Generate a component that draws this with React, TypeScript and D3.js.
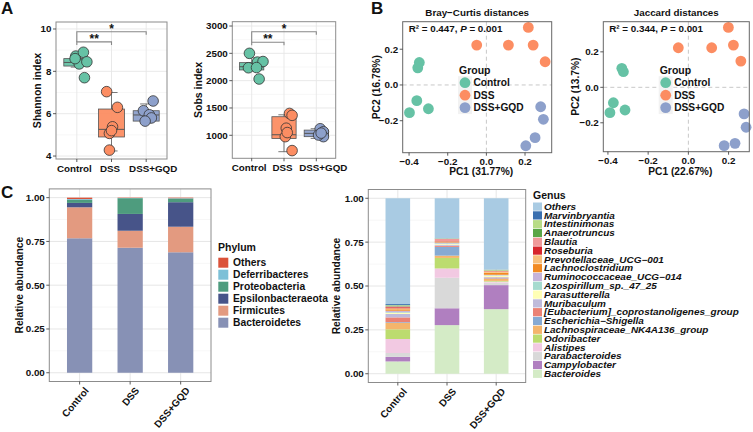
import React from 'react';
import * as d3 from 'd3';

const FONT = '"Liberation Sans", Arial, Helvetica, sans-serif';
const groups = ['Control', 'DSS', 'DSS+GQD'];
const groupColors = ['#66C2A5', '#FC8D62', '#8DA0CB'];
const groupLabelShift = [-2.5, -1.5, 7];

// ---- Panel A data ----
const shannonTicks = [4, 6, 8, 10];
const shannonPoints = [
  [8.72, 8.9, 8.35, 8.45, 7.7, 8.6],
  [7.04, 6.3, 5.38, 5.07, 4.28, 5.2],
  [6.6, 6.14, 5.95, 5.8, 5.65],
];
const shannonJitter = [
  [-0.03, 0.19, 0.07, 0.29, 0.22, -0.05],
  [-0.14, 0.17, 0.03, -0.06, -0.06, 0.0],
  [0.2, -0.08, 0.09, 0.15, -0.03],
];
// [whiskerLow, q1, median, q3, whiskerHigh]
const shannonBoxes = [
  [8.2, 8.25, 8.42, 8.6, 8.75],
  [4.24, 4.9, 5.26, 6.22, 7.0],
  [5.57, 5.65, 5.94, 6.14, 6.46],
];
const shannonBrackets = [
  { a: 0, b: 1, y: 9.39, label: '**' },
  { a: 0, b: 2, y: 9.87, label: '*' },
];

const sobsTicks = [1000, 1500, 2000, 2500, 3000];
const sobsPoints = [
  [2500, 2340, 2350, 2236, 2240, 2030],
  [1400, 1365, 1130, 975, 720, 1050],
  [1120, 1065, 975, 1005, 1040],
];
const sobsJitter = [
  [-0.07, 0.18, 0.35, -0.1, 0.15, 0.23],
  [0.17, 0.25, 0.07, 0.04, 0.25, 0.1],
  [0.12, 0.22, 0.22, 0.07, 0.15],
];
const sobsBoxes = [
  [2180, 2196, 2255, 2330, 2420],
  [700, 940, 1010, 1340, 1375],
  [943, 975, 1035, 1095, 1120],
];
const sobsBrackets = [
  { a: 0, b: 1, y: 2702, label: '**' },
  { a: 0, b: 2, y: 2896, label: '*' },
];

// ---- Panel B data ----
const pcTicks = [-0.4, -0.2, 0.0, 0.2];
const pcYTicks = [-0.2, 0.0, 0.2];
const brayPoints = [
  [[-0.347, 0.126], [-0.355, 0.096], [-0.36, -0.088], [-0.398, -0.155], [-0.3, -0.133]],
  [[-0.05, 0.223], [0.114, 0.223], [0.217, 0.322], [0.242, 0.223], [0.304, 0.13]],
  [[0.281, -0.122], [0.295, -0.192], [0.252, -0.295], [0.204, -0.34]],
];
const jaccardPoints = [
  [[-0.331, 0.107], [-0.323, 0.088], [-0.373, -0.087], [-0.39, -0.143], [-0.315, -0.128]],
  [[-0.05, 0.223], [0.116, 0.223], [0.199, 0.338], [0.224, 0.238], [0.261, 0.148]],
  [[0.277, -0.15], [0.287, -0.225], [0.232, -0.316], [0.178, -0.329]],
];

// ---- Panel C data ----
const abundTicks = [0, 0.25, 0.5, 0.75, 1.0];
const phylumNames = ['Others', 'Deferribacteres', 'Proteobacteria', 'Epsilonbacteraeota', 'Firmicutes', 'Bacteroidetes'];
const phylumColors = ['#DB5239', '#7DC0D7', '#4E9C7E', '#475489', '#E39A80', '#8791B5'];
const phylumControl = [0.008, 0.005, 0.017, 0.025, 0.177, 0.768];
const phylumDSS = [0.002, 0.001, 0.09, 0.096, 0.097, 0.714];
const phylumGQD = [0.003, 0.002, 0.021, 0.14, 0.146, 0.688];

const genusNames = [
  'Others', 'Marvinbryantia', 'Intestinimonas', 'Anaerotruncus', 'Blautia', 'Roseburia',
  'Prevotellaceae_UCG\u2212001', 'Lachnoclostridium', 'Ruminococcaceae_UCG\u2212014', 'Azospirillum_sp._47_25',
  'Parasutterella', 'Muribaculum', '[Eubacterium]_coprostanoligenes_group', 'Escherichia\u2212Shigella',
  'Lachnospiraceae_NK4A136_group', 'Odoribacter', 'Alistipes', 'Parabacteroides', 'Campylobacter', 'Bacteroides',
];
const genusColors = [
  '#A9CBE3', '#3A70B0', '#B8DC86', '#5AA646', '#F09A9A', '#D7262C', '#F8C07C', '#F28A22', '#C6B4DA', '#A6DBCF',
  '#FFFFB5', '#BFBBDB', '#EB8274', '#86AAD3', '#F4B56C', '#BCDC6F', '#F2C9E2', '#D9D9D9', '#B07FC0', '#D4EBC6',
];
const genusControl = [0.603, 0.006, 0.003, 0.004, 0.005, 0.006, 0.006, 0.008, 0.008, 0.004, 0.006, 0.02, 0.027, 0.004, 0.037, 0.055, 0.08, 0.022, 0.026, 0.07];
const genusDSS = [0.228, 0.001, 0.002, 0.001, 0.012, 0.002, 0.003, 0.003, 0.005, 0.004, 0.004, 0.006, 0.006, 0.05, 0.013, 0.06, 0.053, 0.174, 0.096, 0.277];
const genusGQD = [0.406, 0.001, 0.004, 0.002, 0.003, 0.002, 0.006, 0.012, 0.003, 0.002, 0.008, 0.003, 0.004, 0.003, 0.012, 0.004, 0.006, 0.014, 0.137, 0.368];

const GRID = '#E6E6E6';
const GRID_MINOR = '#F2F2F2';
const BORDER = '#8C8C8C';

type BoxProps = {
  x0: number; x1: number; y0: number; y1: number;
  domain: [number, number]; ticks: number[]; label: string;
  points: number[][]; jitter: number[][]; boxes: number[][];
  brackets: { a: number; b: number; y: number; label: string }[];
  labelX: number;
};

function BoxPanel(p: BoxProps) {
  const x = d3.scalePoint<string>().domain(groups).range([p.x0, p.x1]).padding(0.6);
  const step = x.step();
  const y = d3.scaleLinear().domain(p.domain).range([p.y1, p.y0]);
  const minor = p.ticks.slice(0, -1).map((t, i) => (t + p.ticks[i + 1]) / 2);
  const bw = step * 0.75;
  const cw = step * 0.35;
  return (
    <g>
      {minor.map((t) => (
        <line key={'mn' + t} x1={p.x0} x2={p.x1} y1={y(t)} y2={y(t)} stroke={GRID_MINOR} strokeWidth={0.6} />
      ))}
      {p.ticks.map((t) => (
        <line key={'mj' + t} x1={p.x0} x2={p.x1} y1={y(t)} y2={y(t)} stroke={GRID} strokeWidth={0.9} />
      ))}
      {groups.map((g) => (
        <line key={'vg' + g} x1={x(g)} x2={x(g)} y1={p.y0} y2={p.y1} stroke={GRID} strokeWidth={0.9} />
      ))}
      {groups.map((g, i) => {
        const cx = x(g)!;
        const [lo, q1, med, q3, hi] = p.boxes[i];
        return (
          <g key={'box' + g} stroke="#555" strokeWidth={0.8}>
            <line x1={cx} x2={cx} y1={y(lo)} y2={y(q1)} />
            <line x1={cx} x2={cx} y1={y(q3)} y2={y(hi)} />
            <line x1={cx - cw / 2} x2={cx + cw / 2} y1={y(lo)} y2={y(lo)} />
            <line x1={cx - cw / 2} x2={cx + cw / 2} y1={y(hi)} y2={y(hi)} />
            <rect x={cx - bw / 2} width={bw} y={y(q3)} height={y(q1) - y(q3)} fill={groupColors[i]} fillOpacity={0.95} />
            <line x1={cx - bw / 2} x2={cx + bw / 2} y1={y(med)} y2={y(med)} strokeWidth={1} />
          </g>
        );
      })}
      {groups.map((g, i) =>
        p.points[i].map((v, j) => (
          <circle key={g + j} cx={x(g)! + p.jitter[i][j] * step} cy={y(v)} r={5.3}
            fill={groupColors[i]} stroke="#333" strokeWidth={0.8} />
        ))
      )}
      {p.brackets.map((b, k) => {
        const xa = x(groups[b.a])!;
        const xb = x(groups[b.b])!;
        const yy = y(b.y);
        const tipDown = k === 1 ? y(p.brackets[0].y) - yy : 3;
        return (
          <g key={'br' + k}>
            <path d={`M${xa},${yy + tipDown}V${yy}H${xb}V${yy + 3}`} fill="none" stroke="#888" strokeWidth={1.1} />
            <text x={(xa + xb) / 2} y={yy + 1} textAnchor="middle" fontSize={12} fontWeight="bold" fill="#111">{b.label}</text>
          </g>
        );
      })}
      <rect x={p.x0} y={p.y0} width={p.x1 - p.x0} height={p.y1 - p.y0} fill="none" stroke={BORDER} strokeWidth={1} />
      {p.ticks.map((t) => (
        <g key={'t' + t}>
          <line x1={p.x0 - 3} x2={p.x0} y1={y(t)} y2={y(t)} stroke="#333" strokeWidth={0.8} />
          <text x={p.x0 - 4.5} y={y(t)} dy="0.35em" textAnchor="end" fontSize={9.8} fontWeight="bold" fill="#111">{t}</text>
        </g>
      ))}
      {groups.map((g, i) => (
        <g key={'xt' + g}>
          <line x1={x(g)} x2={x(g)} y1={p.y1} y2={p.y1 + 3} stroke="#333" strokeWidth={0.8} />
          <text x={x(g)! + groupLabelShift[i]} y={p.y1 + 13} textAnchor="middle" fontSize={9.8} fontWeight="bold" fill="#111">{g}</text>
        </g>
      ))}
      <text transform={`translate(${p.labelX},${(p.y0 + p.y1) / 2}) rotate(-90)`} dy="0.35em" textAnchor="middle"
        fontSize={10.5} fontWeight="bold" fill="#111">{p.label}</text>
    </g>
  );
}

type PcProps = {
  x0: number; x1: number; y0: number; y1: number;
  xDom: [number, number]; yDom: [number, number];
  title: string; r2: string; pcx: string; pcy: string;
  pts: number[][][]; legX: number; labelX: number;
};

function PcoaPanel(p: PcProps) {
  const x = d3.scaleLinear().domain(p.xDom).range([p.x0, p.x1]);
  const y = d3.scaleLinear().domain(p.yDom).range([p.y1, p.y0]);
  const fmt = d3.format('.1f');
  const legY = [82.7, 95.2, 107.6];
  return (
    <g>
      <line x1={x(0)} x2={x(0)} y1={p.y0} y2={p.y1} stroke="#C8C8C8" strokeWidth={1} strokeDasharray="4,3" />
      <line x1={p.x0} x2={p.x1} y1={y(0)} y2={y(0)} stroke="#C8C8C8" strokeWidth={1} strokeDasharray="4,3" />
      {p.pts.map((gp, i) =>
        gp.map((d, j) => <circle key={i + '-' + j} cx={x(d[0])} cy={y(d[1])} r={5.4} fill={groupColors[i]} />)
      )}
      <rect x={p.x0} y={p.y0} width={p.x1 - p.x0} height={p.y1 - p.y0} fill="none" stroke="#666" strokeWidth={1} />
      <text x={(p.x0 + p.x1) / 2} y={16} textAnchor="middle" fontSize={9.8} fontWeight="bold" fill="#111">{p.title}</text>
      <text x={p.x0 + 6} y={32} fontSize={9.8} fontWeight="bold" fill="#111">
        {p.r2}<tspan fontStyle="italic">P</tspan> = 0.001
      </text>
      {/* legend */}
      <text x={p.legX - 6} y={74} fontSize={10.5} fontWeight="bold" fill="#111">Group</text>
      <rect x={p.legX - 7} y={legY[0] - 6.5} width={14} height={legY[2] - legY[0] + 13} fill="#F2F2F2" />
      {groups.map((g, i) => (
        <g key={'lg' + g}>
          <circle cx={p.legX} cy={legY[i]} r={5.4} fill={groupColors[i]} />
          <text x={p.legX + 8.5} y={legY[i]} dy="0.36em" fontSize={10.2} fontWeight="bold" fill="#111">{g}</text>
        </g>
      ))}
      {pcTicks.map((t) => (
        <g key={'xt' + t}>
          <line x1={x(t)} x2={x(t)} y1={p.y1} y2={p.y1 + 3} stroke="#333" strokeWidth={0.8} />
          <text x={x(t)} y={p.y1 + 12} textAnchor="middle" fontSize={9.8} fontWeight="bold" fill="#111">{fmt(t)}</text>
        </g>
      ))}
      {pcYTicks.map((t) => (
        <g key={'yt' + t}>
          <line x1={p.x0 - 3} x2={p.x0} y1={y(t)} y2={y(t)} stroke="#333" strokeWidth={0.8} />
          <text x={p.x0 - 4.5} y={y(t)} dy="0.35em" textAnchor="end" fontSize={9.8} fontWeight="bold" fill="#111">{fmt(t)}</text>
        </g>
      ))}
      <text x={(p.x0 + p.x1) / 2 + 4} y={175} textAnchor="middle" fontSize={10.2} fontWeight="bold" fill="#111">{p.pcx}</text>
      <text transform={`translate(${p.labelX},${(p.y0 + p.y1) / 2}) rotate(-90)`} dy="0.35em" textAnchor="middle"
        fontSize={10.2} fontWeight="bold" fill="#111">{p.pcy}</text>
    </g>
  );
}

type StackProps = {
  x0: number; x1: number; y0: number; y1: number;
  names: string[]; colors: string[]; series: number[][];
  labelX: number;
};

function StackPanel(p: StackProps) {
  const x = d3.scalePoint<string>().domain(groups).range([p.x0, p.x1]).padding(0.6);
  const bw = x.step() * 0.5;
  const y = d3.scaleLinear().domain([-0.05, 1.05]).range([p.y1, p.y0]);
  const keysBottomUp = p.names.slice().reverse();
  const rows = groups.map((g, gi) => {
    const r: Record<string, number | string> = { group: g };
    p.names.forEach((n, k) => { r[n] = p.series[gi][k]; });
    return r;
  });
  const stack = d3.stack<Record<string, number | string>>().keys(keysBottomUp)(rows as any);
  const fmt = d3.format('.2f');
  const minor = [0.125, 0.375, 0.625, 0.875];
  return (
    <g>
      {minor.map((t) => (
        <line key={'mn' + t} x1={p.x0} x2={p.x1} y1={y(t)} y2={y(t)} stroke={GRID_MINOR} strokeWidth={0.6} />
      ))}
      {abundTicks.map((t) => (
        <line key={'mj' + t} x1={p.x0} x2={p.x1} y1={y(t)} y2={y(t)} stroke={GRID} strokeWidth={1} />
      ))}
      {groups.map((g) => (
        <line key={'vg' + g} x1={x(g)} x2={x(g)} y1={p.y0} y2={p.y1} stroke={GRID} strokeWidth={1} />
      ))}
      {stack.map((layer) => {
        const color = p.colors[p.names.indexOf(layer.key)];
        return layer.map((seg, i) => (
          <rect key={layer.key + i} x={x(groups[i])! - bw / 2} width={bw} y={y(seg[1])}
            height={Math.max(0, y(seg[0]) - y(seg[1]))} fill={color} />
        ));
      })}
      <rect x={p.x0} y={p.y0} width={p.x1 - p.x0} height={p.y1 - p.y0} fill="none" stroke={BORDER} strokeWidth={1} />
      {abundTicks.map((t) => (
        <g key={'t' + t}>
          <line x1={p.x0 - 3} x2={p.x0} y1={y(t)} y2={y(t)} stroke="#333" strokeWidth={0.8} />
          <text x={p.x0 - 4.5} y={y(t)} dy="0.35em" textAnchor="end" fontSize={9.8} fontWeight="bold" fill="#111">{fmt(t)}</text>
        </g>
      ))}
      {groups.map((g) => (
        <g key={'xt' + g}>
          <line x1={x(g)} x2={x(g)} y1={p.y1} y2={p.y1 + 3} stroke="#333" strokeWidth={0.8} />
          <text transform={`translate(${x(g)! + 4},${p.y1 + 4.5}) rotate(-50)`} dy="0.75em" textAnchor="end"
            fontSize={10} fontWeight="bold" fill="#111">{g}</text>
        </g>
      ))}
      <text transform={`translate(${p.labelX},${(p.y0 + p.y1) / 2}) rotate(-90)`} dy="0.35em" textAnchor="middle"
        fontSize={10.3} fontWeight="bold" fill="#111">Relative abundance</text>
    </g>
  );
}

export default function App() {
  return (
    <svg width={753} height={432} fontFamily={FONT}
      style={{ position: 'absolute', left: 0, top: 0, display: 'block', background: 'white' }}>
      <rect width={753} height={432} fill="white" />
      <text x={1} y={14} fontSize={17} fontWeight="bold" fill="#111">A</text>
      <text x={371} y={14} fontSize={17} fontWeight="bold" fill="#111">B</text>
      <text x={1} y={198} fontSize={17} fontWeight="bold" fill="#111">C</text>

      <BoxPanel x0={56} x1={167} y0={22} y1={159} domain={[3.86, 10.33]} ticks={shannonTicks}
        label="Shannon index" points={shannonPoints} jitter={shannonJitter} boxes={shannonBoxes}
        brackets={shannonBrackets} labelX={37.5} />
      <BoxPanel x0={232.3} x1={335.7} y0={21.7} y1={158.3} domain={[579, 3079]} ticks={sobsTicks}
        label="Sobs index" points={sobsPoints} jitter={sobsJitter} boxes={sobsBoxes}
        brackets={sobsBrackets} labelX={198} />

      <PcoaPanel x0={402.7} x1={551.7} y0={21.7} y1={152.7} xDom={[-0.433, 0.338]} yDom={[-0.379, 0.354]}
        title={'Bray\u2212Curtis distances'} r2={'R\u00B2 = 0.447, '} pcx="PC1 (31.77%)" pcy="PC2 (16.78%)"
        pts={brayPoints} legX={465} labelX={376} />
      <PcoaPanel x0={603.3} x1={749.3} y0={21.7} y1={151.7} xDom={[-0.423, 0.303]} yDom={[-0.363, 0.37]}
        title="Jaccard distances" r2={'R\u00B2 = 0.344, '} pcx="PC1 (22.67%)" pcy="PC2 (13.7%)"
        pts={jaccardPoints} legX={665.7} labelX={575.5} />

      <StackPanel x0={49.3} x1={211} y0={188.9} y1={381.5} names={phylumNames} colors={phylumColors}
        series={[phylumControl, phylumDSS, phylumGQD]} labelX={19} />
      <text x={218} y={251} fontSize={10.5} fontWeight="bold" fill="#111">Phylum</text>
      {phylumNames.map((n, i) => (
        <g key={'pl' + n}>
          <rect x={218.3} y={257.7 + i * 12} width={10} height={10} fill={phylumColors[i]} />
          <text x={233} y={262.7 + i * 12} dy="0.36em" fontSize={10.3} fontWeight="bold" fill="#111">{n}</text>
        </g>
      ))}

      <StackPanel x0={368.3} x1={525.7} y0={189.5} y1={382.5} names={genusNames} colors={genusColors}
        series={[genusControl, genusDSS, genusGQD]} labelX={336.7} />
      <text x={533} y={199} fontSize={10.5} fontWeight="bold" fill="#111">Genus</text>
      {genusNames.map((n, i) => (
        <g key={'gl' + n}>
          <rect x={533} y={202.5 + i * 8.8} width={9} height={8.2} fill={genusColors[i]} />
          <text transform={`translate(544,${206.7 + i * 8.8}) scale(1.16,1)`} dy="0.36em" fontSize={8.6}
            fontWeight="bold" fontStyle="italic" fill="#111">{n}</text>
        </g>
      ))}
    </svg>
  );
}
